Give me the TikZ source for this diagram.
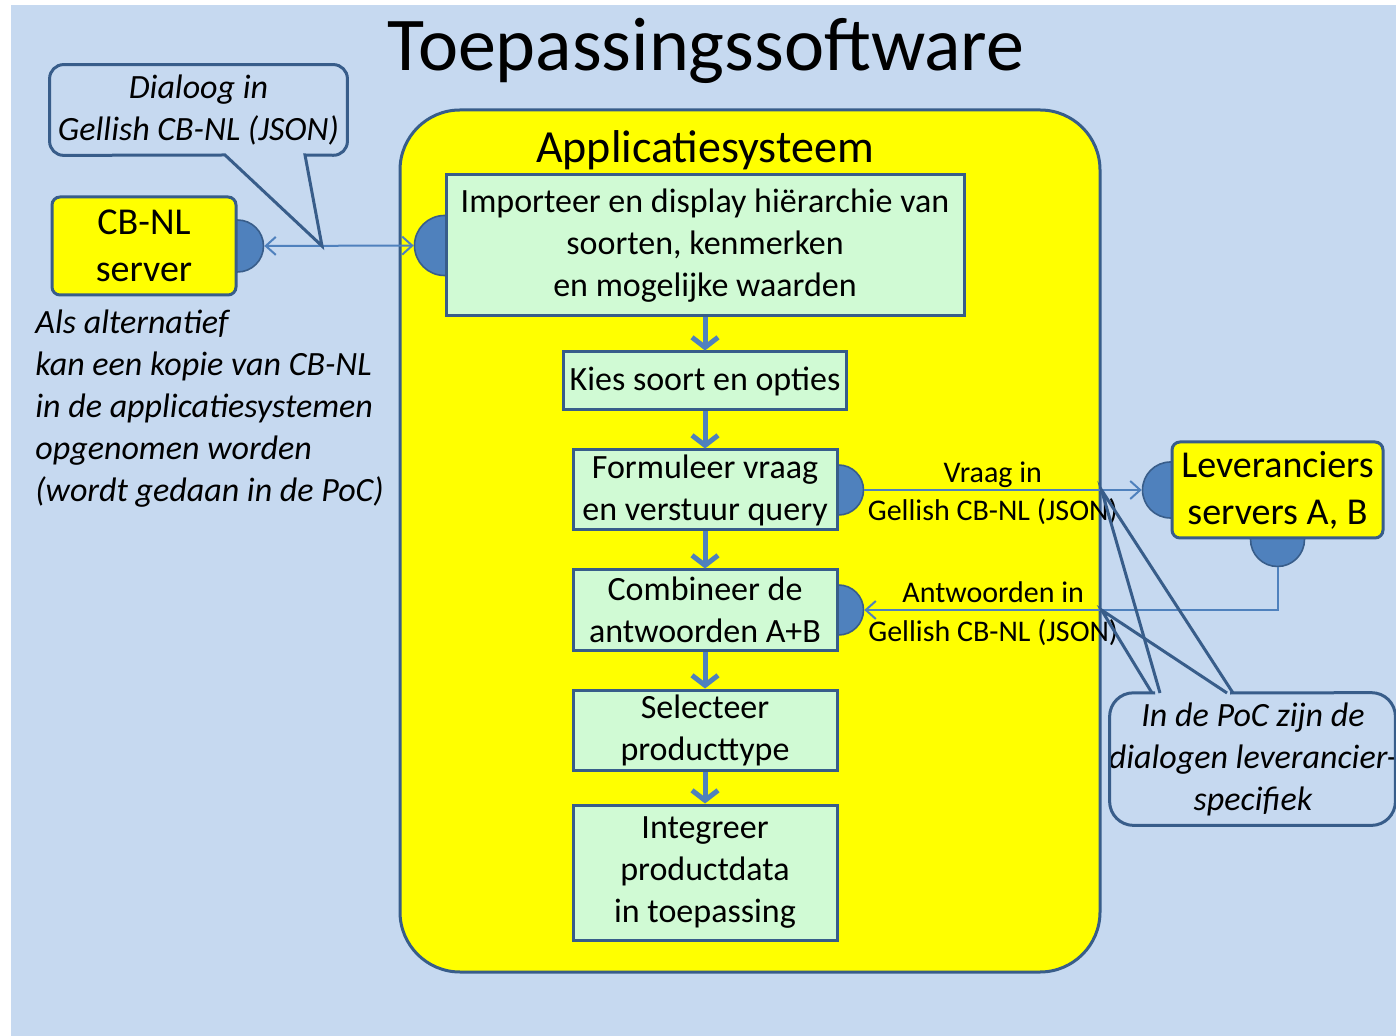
\documentclass[tikz,border=0pt]{standalone}
\usepackage{fontspec}
\setmainfont{Carlito}
\usetikzlibrary{positioning,arrows.meta}

\definecolor{achtergrond}{RGB}{198,217,240}
\definecolor{geel}{RGB}{255,255,0}
\definecolor{mint}{RGB}{208,250,212}
\definecolor{rand}{RGB}{56,93,138}
\definecolor{poortblauw}{RGB}{79,129,189}

\pgfdeclarelayer{bg}
\pgfdeclarelayer{poorten}
\pgfsetlayers{bg,poorten,main}

\begin{document}
\begin{tikzpicture}[x=0.5pt, y=-0.5pt,
	stap/.style={rectangle, draw=rand, line width=1.5pt, fill=mint, minimum width=132pt, minimum height=40pt, inner sep=0pt, align=center, font=\fontsize{17}{21}\selectfont},
	srv/.style={rectangle, rounded corners=4pt, draw=rand, line width=1.5pt, fill=geel, inner sep=1pt, align=center, font=\fontsize{19}{23.5}\selectfont},
	poort/.style={circle, draw=rand, line width=0.8pt, fill=poortblauw, inner sep=0pt},
	pijl/.style={draw=poortblauw, line width=2.5pt, -{Straight Barb[length=5pt, width=13pt]}},
	lijn/.style={draw=poortblauw, line width=1pt},
	ballon/.style={draw=rand, line width=1.5pt},
	notitie/.style={align=center, inner sep=0pt, font=\fontsize{17}{21}\selectfont\itshape},
	lab/.style={anchor=base, inner sep=0pt, font=\fontsize{15}{18}\selectfont}]

	\useasboundingbox (0,0) rectangle (1396,1036);
	\begin{pgfonlayer}{bg}
		\fill[white] (0,0) rectangle (1396,1036);
		\fill[achtergrond] (11,5) rectangle (1396,1036);
		\node[draw=rand, line width=1.5pt, fill=geel, rounded corners=30pt, minimum width=350pt, minimum height=431pt] (sys) at (750,541) {};
	\end{pgfonlayer}

	\node[anchor=base, font=\fontsize{38}{45}\selectfont] (titel) at (706,71) {Toepassingssoftware};
	\node[anchor=base, font=\fontsize{23}{28}\selectfont] (syskop) at (705,163) {Applicatiesysteem};

	\node[stap, minimum width=259pt, minimum height=70.5pt] (s1) at (705,245.5) {Importeer en display hiërarchie van\\soorten, kenmerken\\en mogelijke waarden};
	\node[stap, minimum width=141.5pt, minimum height=29pt, below=16.5pt of s1] (s2) {Kies soort en opties};
	\node[stap, below=18.5pt of s2] (s3) {Formuleer vraag\\en verstuur query};
	\node[stap, below=18.5pt of s3] (s4) {Combineer de\\antwoorden A+B};
	\node[stap, below=18.5pt of s4] (s5) {Selecteer\\producttype};
	\node[stap, minimum height=67.5pt, below=16pt of s5] (s6) {Integreer\\productdata\\in toepassing};

	\node[srv, minimum width=92pt, minimum height=49pt] (cbnl) at (144,246) {CB-NL\\server};
	\node[srv, minimum width=105.5pt, minimum height=48pt] (lev) at (1277.5,490) {Leveranciers\\servers A, B};

	\begin{pgfonlayer}{poorten}
		\node[poort, minimum size=26pt] (p0) at (cbnl.east) {};
		\node[poort, minimum size=30pt] (p1) at (s1.west) {};
		\node[poort, minimum size=25pt] (p3) at (s3.east) {};
		\node[poort, minimum size=25pt] (p4) at (s4.east) {};
		\node[poort, minimum size=28pt] (pl) at (lev.west) {};
		\node[poort, minimum size=27pt] (pb) at (lev.south) {};
	\end{pgfonlayer}

	\path[pijl] (s1) edge (s2);
	\path[pijl] (s2) edge (s3);
	\path[pijl] (s3) edge (s4);
	\path[pijl] (s4) edge (s5);
	\path[pijl] (s5) edge (s6);

	\draw[lijn, {Straight Barb[length=5pt, width=9pt]}-{Straight Barb[length=5pt, width=9pt]}] (p0) -- (p1);
	\draw[lijn, -{Straight Barb[length=5pt, width=9pt]}] (p3) -- node[lab, pos=0.463, yshift=3.5pt] (vraag) {Vraag in} node[lab, pos=0.463, yshift=-15.5pt] (vraagtaal) {Gellish CB-NL (JSON)} (pl);
	\draw[lijn, -{Straight Barb[length=5pt, width=9pt]}] (pb) |- node[lab, pos=0.844, yshift=3.5pt] (antw) {Antwoorden in} node[lab, pos=0.844, yshift=-15.5pt] (antwtaal) {Gellish CB-NL (JSON)} (p4);

	\node[notitie, align=left, anchor=west] (alt) at (35,409) {Als alternatief\\kan een kopie van CB-NL\\in de applicatiesystemen\\opgenomen worden\\(wordt gedaan in de PoC)};

	\node[notitie, minimum width=148.5pt, minimum height=45pt] (dlg) at (198.5,110) {Dialoog in\\Gellish CB-NL (JSON)};
	\coordinate (dlgtip) at (322,246);
	\coordinate (dlgL) at (225,155);
	\coordinate (dlgR) at (305,155);
	\draw[ballon] (dlgR) [rounded corners=7pt] -- (dlg.south east) -- (dlg.north east) -- (dlg.north west) -- (dlg.south west) [sharp corners] -- (dlgL) -- (dlgtip) -- cycle;

	\node[minimum width=142.5pt, minimum height=66pt, inner sep=0pt] (poc) at (1252.5,759) {};
	\node[notitie] (poctekst) at (1253,759) {In de PoC zijn de\\dialogen leverancier-\\specifiek};
	\coordinate (vtip) at (sys.east |- p3);
	\coordinate (atip) at (sys.east |- p4);
	\coordinate (pocL) at (1155,693);
	\coordinate (pocR) at (1230,693);
	\draw[ballon] (pocR) [rounded corners=12pt] -- (poc.north east) -- (poc.south east) -- (poc.south west) -- (poc.north west) [sharp corners] -- (pocL);
	\draw[ballon] (1160,693) -- (vtip) -- (1233,693);
	\draw[ballon] (1152,693) -- (atip) -- (1227,693);
\end{tikzpicture}
\end{document}
